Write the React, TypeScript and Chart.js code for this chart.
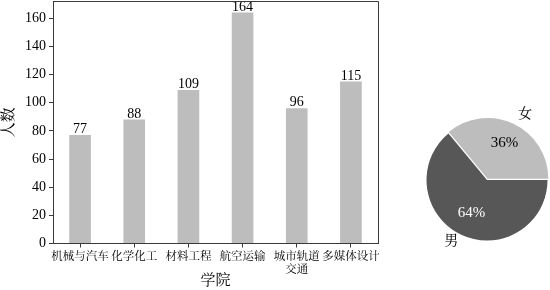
import React, { useEffect, useRef } from "react";
import { Chart, registerables } from "chart.js";

Chart.register(...registerables);

const categories: (string | string[])[] = ["机械与汽车", "化学化工", "材料工程", "航空运输", ["城市轨道", "交通"], "多媒体设计"];
const counts = [77, 88, 109, 164, 96, 115];
const yTicks = [0, 20, 40, 60, 80, 100, 120, 140, 160];
const yMax = 172.2;
const genderLabels = ["女", "男"];
const genderShares = [36, 64];

const FONT = "'Liberation Serif', 'Noto Serif CJK SC', 'Noto Sans CJK SC', serif";
const AXIS_COLOR = "#3a3a3a";

export default function App() {
  const barRef = useRef<HTMLCanvasElement>(null);
  const pieRef = useRef<HTMLCanvasElement>(null);

  useEffect(() => {
    const barLabels = {
      id: "barLabels",
      afterDatasetsDraw(chart: any) {
        const ctx = chart.ctx;
        const meta = chart.getDatasetMeta(0);
        ctx.save();
        ctx.font = `14px ${FONT}`;
        ctx.fillStyle = "#000";
        ctx.textAlign = "center";
        ctx.textBaseline = "alphabetic";
        meta.data.forEach((bar: any, i: number) => {
          ctx.fillText(String(counts[i]), bar.x, bar.y - 2);
        });
        const a = chart.chartArea;
        ctx.strokeStyle = AXIS_COLOR;
        ctx.lineWidth = 1;
        ctx.beginPath();
        ctx.moveTo(a.left, a.top + 0.5);
        ctx.lineTo(a.right + 0.5, a.top + 0.5);
        ctx.lineTo(a.right + 0.5, a.bottom);
        ctx.stroke();
        ctx.restore();
      },
    };

    const bar = new Chart(barRef.current!, {
      type: "bar",
      data: {
        labels: categories,
        datasets: [
          {
            data: counts,
            backgroundColor: "#bdbdbd",
            barPercentage: 0.4,
            categoryPercentage: 1,
          },
        ],
      },
      options: {
        responsive: false,
        animation: false,
        devicePixelRatio: 1,
        layout: { padding: { top: 1, right: 22, left: 0, bottom: 0 } },
        plugins: { legend: { display: false }, tooltip: { enabled: false } },
        scales: {
          x: {
            grid: { display: true, drawOnChartArea: false, drawTicks: true, tickLength: 4, offset: false, color: AXIS_COLOR },
            border: { display: true, color: AXIS_COLOR, width: 1 },
            ticks: { color: "#000", font: { family: FONT, size: 11.5, lineHeight: 1.13 }, padding: 3, maxRotation: 0, autoSkip: false },
            title: { display: true, text: "学院", color: "#000", font: { family: FONT, size: 15 }, padding: 0 },
            afterFit: (s: any) => { s.height = 46.5; s.paddingLeft = 0; s.paddingRight = 0; },
          },
          y: {
            min: 0,
            max: yMax,
            grid: { display: true, drawOnChartArea: false, drawTicks: true, tickLength: 4, color: AXIS_COLOR },
            border: { display: true, color: AXIS_COLOR, width: 1 },
            ticks: { color: "#000", font: { family: FONT, size: 14 }, padding: 3, stepSize: 20 },
            afterBuildTicks: (s: any) => { s.ticks = yTicks.map((v) => ({ value: v })); },
            title: { display: true, text: "人数", color: "#000", font: { family: FONT, size: 15 }, padding: 0 },
            afterFit: (s: any) => { s.width = 53; s.paddingTop = 0; s.paddingBottom = 0; },
          },
        },
      },
      plugins: [barLabels],
    } as any);

    const pieLabels = {
      id: "pieLabels",
      afterDatasetsDraw(chart: any) {
        const ctx = chart.ctx;
        const meta = chart.getDatasetMeta(0);
        const offsets = chart.data.datasets[0].offset as number[];
        ctx.save();
        ctx.textBaseline = "middle";
        meta.data.forEach((arc: any, i: number) => {
          const mid = (arc.startAngle + arc.endAngle) / 2;
          const r = arc.outerRadius;
          const cx = arc.x + Math.cos(mid) * offsets[i];
          const cy = arc.y + Math.sin(mid) * offsets[i];
          const lx = cx + Math.cos(mid) * r * 1.12;
          const ly = cy + Math.sin(mid) * r * 1.12;
          ctx.font = `14px ${FONT}`;
          ctx.fillStyle = "#000";
          ctx.textAlign = Math.cos(mid) >= 0 ? "left" : "right";
          ctx.fillText(genderLabels[i], lx, ly);
          ctx.textAlign = "center";
          ctx.fillStyle = i === 0 ? "#000" : "#fff";
          ctx.font = `15px ${FONT}`;
          ctx.fillText(`${genderShares[i]}%`, cx + Math.cos(mid) * r * 0.6, cy + Math.sin(mid) * r * 0.6);
        });
        ctx.restore();
      },
    };

    const pie = new Chart(pieRef.current!, {
      type: "pie",
      data: {
        labels: genderLabels,
        datasets: [
          {
            data: genderShares,
            backgroundColor: ["#bdbdbd", "#575757"],
            borderWidth: 0,
            offset: [5, 0],
            radius: 60.5,
          },
        ],
      },
      options: {
        responsive: false,
        animation: false,
        devicePixelRatio: 1,
        rotation: -39.6,
        radius: 60.5,
        layout: { padding: 0 },
        plugins: { legend: { display: false }, tooltip: { enabled: false } },
      },
      plugins: [pieLabels],
    } as any);

    return () => {
      bar.destroy();
      pie.destroy();
    };
  }, []);

  return (
    <div style={{ position: "fixed", left: 0, top: 0, width: 550, height: 290, background: "#fff", overflow: "hidden" }}>
      <canvas ref={barRef} width={400} height={290} style={{ position: "absolute", left: 0, top: 0 }} />
      <canvas ref={pieRef} width={126} height={220} style={{ position: "absolute", left: 424, top: 70 }} />
    </div>
  );
}
